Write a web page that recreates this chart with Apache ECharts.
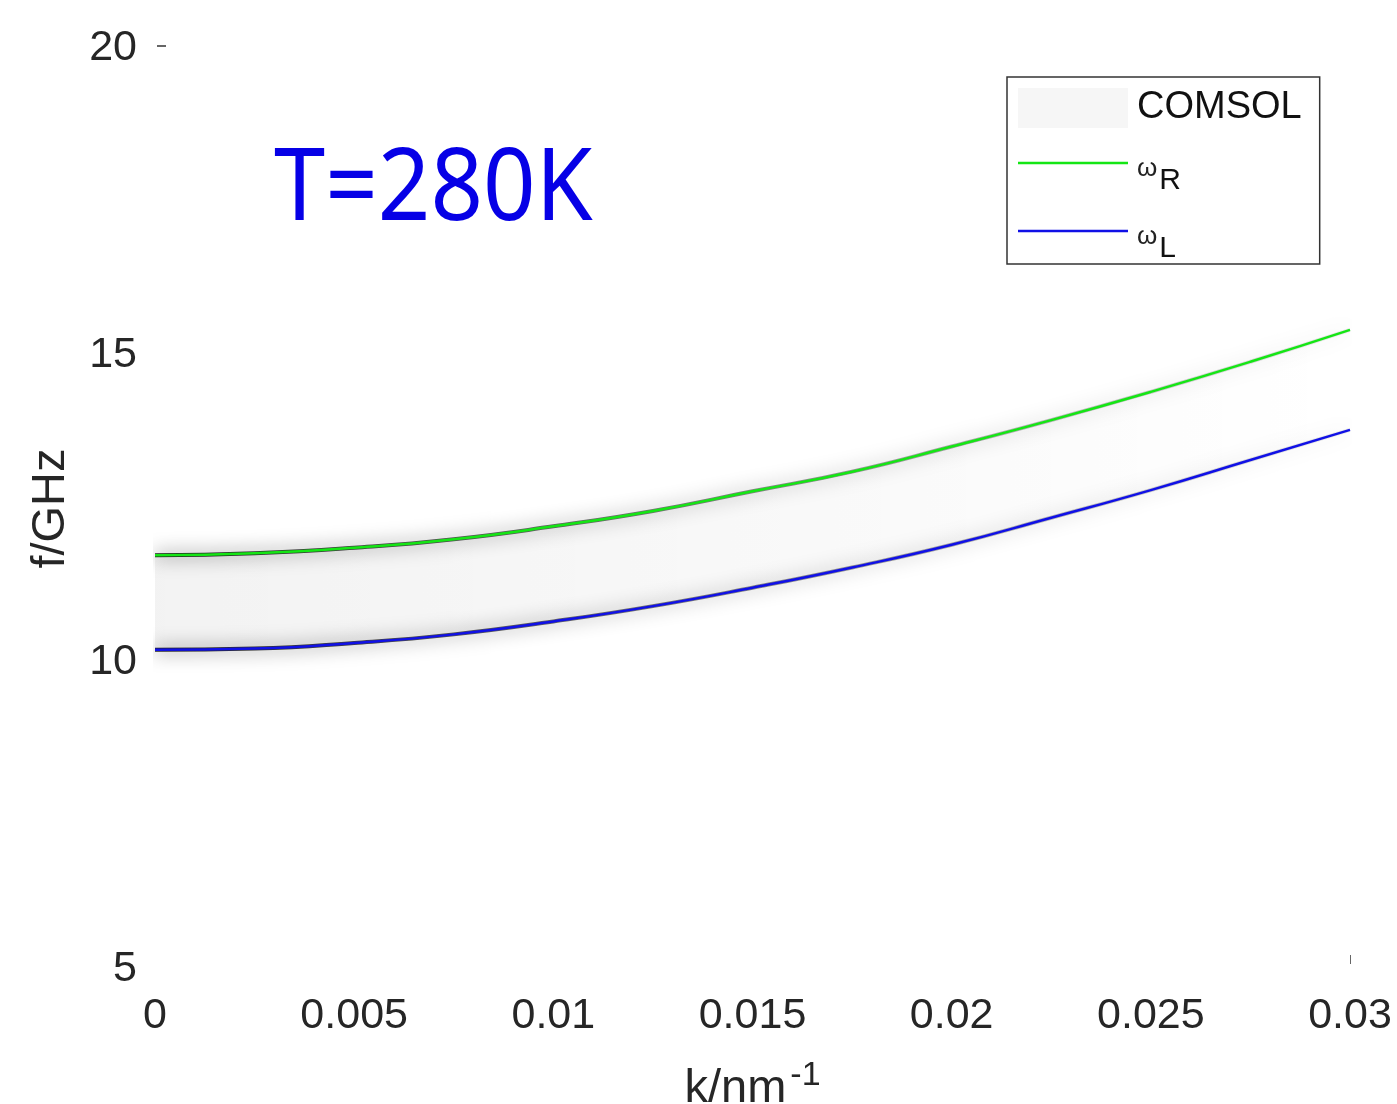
<!DOCTYPE html>
<html>

<head>
    <meta charset="utf-8">
    <title>T=280K</title>
    <script src="https://cdn.jsdelivr.net/npm/echarts@6/dist/echarts.min.js"></script>
    <style>
        html, body { margin: 0; padding: 0; background: #fff; }
    </style>
</head>

<body>
    <div id="main" style="width: 1397px;height:1104px;"></div>
    <script type="text/javascript">
        // wave number k (nm^-1)
        var kValues = [0, 0.0025, 0.005, 0.0075, 0.01, 0.0125, 0.015, 0.0175, 0.02, 0.0225, 0.025, 0.0275, 0.03];
        // omega_R branch (GHz)
        var fRight = [11.74, 11.77, 11.86, 12.00, 12.21, 12.46, 12.78, 13.10, 13.51, 13.94, 14.40, 14.89, 15.41];
        // omega_L branch (GHz)
        var fLeft = [10.20, 10.22, 10.31, 10.45, 10.66, 10.91, 11.21, 11.54, 11.91, 12.35, 12.80, 13.29, 13.78];
        var xTicks = [0, 0.005, 0.01, 0.015, 0.02, 0.025, 0.03];
        var yTicks = [5, 10, 15, 20];

        function pairs(ys) {
            return kValues.map(function (k, i) { return [k, ys[i]]; });
        }

        var myChart = echarts.init(document.getElementById('main'));
        var font = 'Liberation Sans, Arial, sans-serif';
        var lineIcon = 'path://M0,0H110V2.6H0Z';
        var boxIcon = 'path://M0,0H110V40H0Z';

        var haloColor = new echarts.graphic.LinearGradient(0, 0, 1, 0, [
            { offset: 0, color: 'rgba(0,0,0,0.85)' },
            { offset: 0.5, color: 'rgba(0,0,0,0.45)' },
            { offset: 1, color: 'rgba(0,0,0,0.08)' }
        ]);

        var option = {
            backgroundColor: '#fff',
            animation: false,
            grid: { left: 155, right: 47, top: 48, bottom: 135, outerBoundsMode: 'none' },
            graphic: [{
                type: 'text',
                left: 274,
                top: 142,
                style: {
                    text: 'T=280K',
                    font: '100px "Noto Sans", sans-serif',
                    fill: '#0600e6'
                },
                scaleX: 0.92
            }, {
                // leftover tick marks of the original axes
                type: 'line',
                shape: { x1: 157, y1: 46, x2: 166, y2: 46 },
                style: { stroke: '#333', lineWidth: 1.5 }
            }, {
                type: 'line',
                shape: { x1: 1350, y1: 955, x2: 1350, y2: 964 },
                style: { stroke: '#333', lineWidth: 1.5 }
            }],
            legend: {
                orient: 'vertical',
                left: 1007,
                top: 77,
                backgroundColor: '#fff',
                borderColor: '#333',
                borderWidth: 1.5,
                borderRadius: 0,
                padding: [11, 18, 0, 11],
                itemWidth: 110,
                itemHeight: 62,
                itemGap: 28,
                symbolKeepAspect: true,
                data: [
                    { name: 'COMSOL', icon: boxIcon, itemStyle: { color: '#f6f6f6', borderWidth: 0 } },
                    { name: 'ωR', icon: lineIcon },
                    { name: 'ωL', icon: lineIcon }
                ],
                formatter: function (name) {
                    if (name === 'COMSOL') return '{c|COMSOL}';
                    return '{w|ω}{s|' + name.slice(1) + '}';
                },
                textStyle: {
                    fontFamily: font,
                    color: '#111',
                    padding: [0, 0, 0, 4],
                    rich: {
                        c: { fontSize: 38, fontFamily: font, color: '#111' },
                        w: { fontSize: 26, fontFamily: font, color: '#222', padding: [12, 0, 0, 0] },
                        s: { fontSize: 30, fontFamily: font, color: '#111', padding: [36, 0, 0, 2] }
                    }
                }
            },
            xAxis: {
                type: 'value',
                min: 0,
                max: 0.03,
                interval: 0.005,
                name: '{a|k/nm}{b|-1}',
                nameLocation: 'middle',
                nameGap: 90,
                nameTextStyle: {
                    rich: {
                        a: { fontSize: 47, fontFamily: font, color: '#262626' },
                        b: { fontSize: 34, fontFamily: font, color: '#262626', padding: [0, 0, 26, 4] }
                    }
                },
                axisLine: { show: false },
                axisTick: { show: false },
                splitLine: { show: false },
                axisLabel: {
                    fontSize: 43,
                    fontFamily: font,
                    color: '#262626',
                    margin: 26,
                    showMaxLabel: true,
                    formatter: function (v) { return String(parseFloat(v.toFixed(4))); }
                }
            },
            yAxis: {
                type: 'value',
                min: 5,
                max: 20,
                interval: 5,
                name: 'f/GHz',
                nameLocation: 'middle',
                nameGap: 80,
                nameTextStyle: { fontSize: 47, fontFamily: font, color: '#262626' },
                axisLine: { show: false },
                axisTick: { show: false },
                splitLine: { show: false },
                axisLabel: {
                    fontSize: 43,
                    fontFamily: font,
                    color: '#262626',
                    margin: 18
                }
            },
            series: [{
                name: 'COMSOL',
                type: 'line',
                data: pairs(fRight),
                smooth: true,
                symbol: 'none',
                silent: true,
                lineStyle: { width: 0, color: 'rgba(0,0,0,0)' },
                areaStyle: {
                    origin: 'start',
                    color: new echarts.graphic.LinearGradient(0, 0, 1, 0, [
                        { offset: 0, color: 'rgba(0,0,0,0.07)' },
                        { offset: 0.6, color: 'rgba(0,0,0,0.03)' },
                        { offset: 1, color: 'rgba(0,0,0,0.0)' }
                    ])
                }
            }, {
                name: 'COMSOL',
                type: 'line',
                data: pairs(fLeft),
                smooth: true,
                symbol: 'none',
                silent: true,
                lineStyle: { width: 0, color: 'rgba(0,0,0,0)' },
                areaStyle: { origin: 'start', color: '#fff', opacity: 1 }
            }, {
                name: 'COMSOL',
                type: 'line',
                data: pairs(fRight),
                smooth: true,
                symbol: 'none',
                silent: true,
                lineStyle: { width: 4, color: haloColor, shadowBlur: 18, shadowColor: 'rgba(0,0,0,0.8)' }
            }, {
                name: 'COMSOL',
                type: 'line',
                data: pairs(fLeft),
                smooth: true,
                symbol: 'none',
                silent: true,
                lineStyle: { width: 4, color: haloColor, shadowBlur: 18, shadowColor: 'rgba(0,0,0,0.8)' }
            }, {
                name: 'ωR',
                type: 'line',
                data: pairs(fRight),
                smooth: true,
                symbol: 'none',
                itemStyle: { color: '#14e614' },
                lineStyle: { width: 2.5, color: '#14e614' }
            }, {
                name: 'ωL',
                type: 'line',
                data: pairs(fLeft),
                smooth: true,
                symbol: 'none',
                itemStyle: { color: '#1010e6' },
                lineStyle: { width: 2.5, color: '#1010e6' }
            }]
        };

        myChart.setOption(option);
    </script>
</body>

</html>
